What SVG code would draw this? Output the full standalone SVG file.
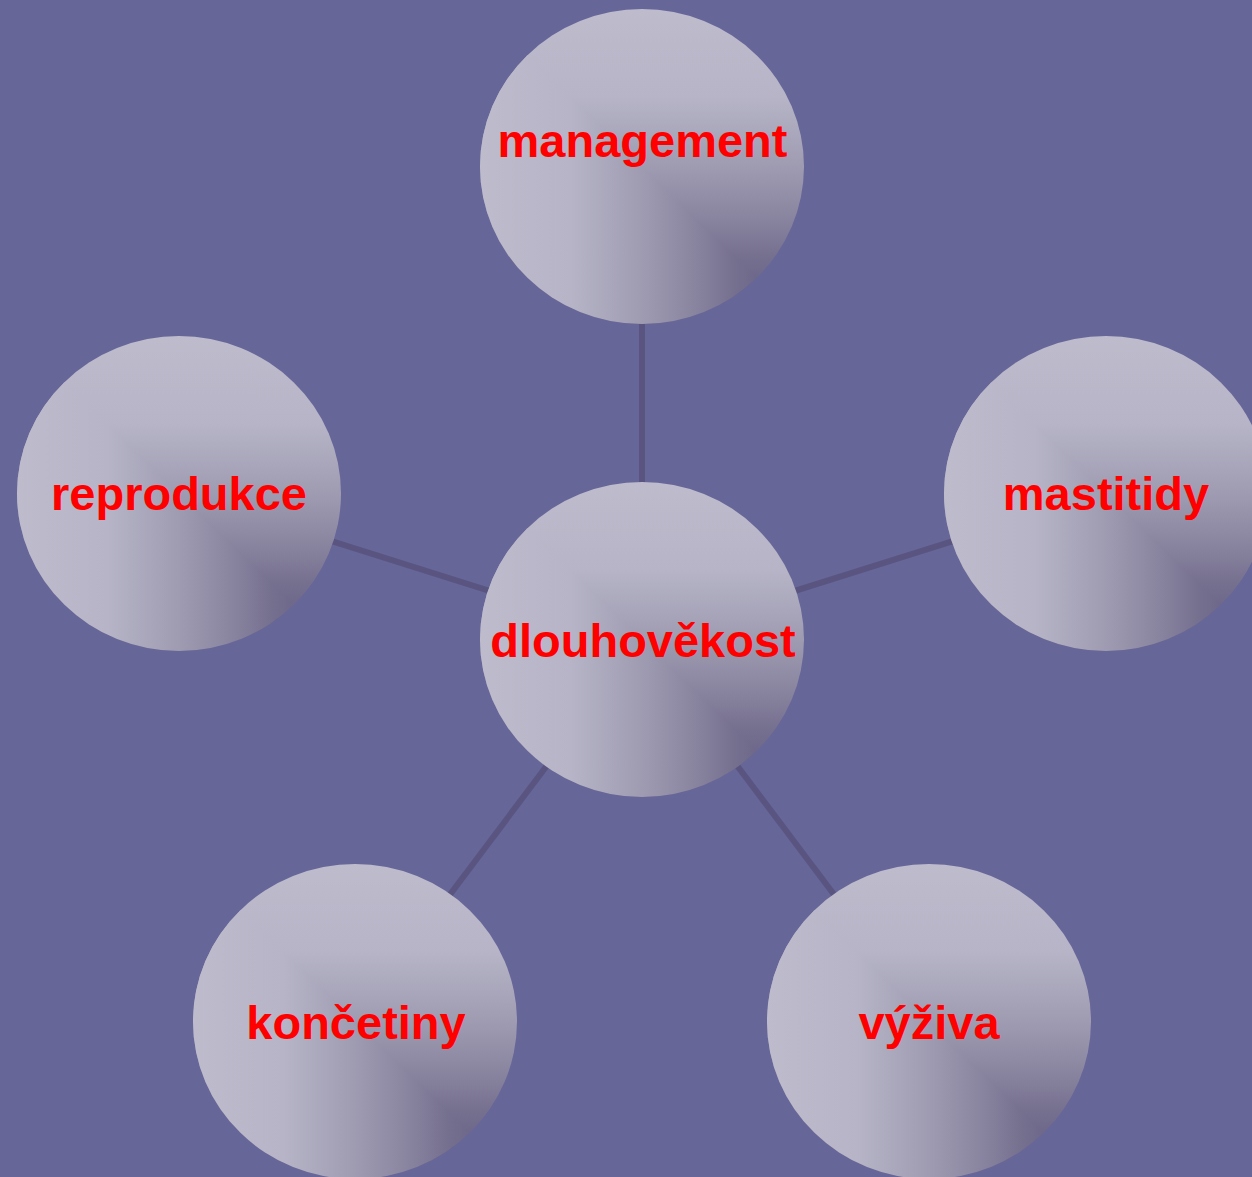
<svg xmlns="http://www.w3.org/2000/svg" width="1252" height="1177" viewBox="0 0 1252 1177">
  <defs>
    <!-- shading toward the lower-right: vertical ramp in the upper-right half, horizontal ramp in the lower-left half -->
    <linearGradient id="rampV" x1="0" y1="0" x2="0" y2="1">
      <stop offset="0" stop-color="#bdbbcc"/>
      <stop offset="0.28" stop-color="#b6b4c6"/>
      <stop offset="0.48" stop-color="#a19eb4"/>
      <stop offset="0.64" stop-color="#8c88a2"/>
      <stop offset="0.78" stop-color="#777190"/>
      <stop offset="0.88" stop-color="#6a6488"/>
      <stop offset="1" stop-color="#6a6488"/>
    </linearGradient>
    <linearGradient id="rampH" x1="0" y1="0" x2="1" y2="0">
      <stop offset="0" stop-color="#bdbbcc"/>
      <stop offset="0.28" stop-color="#b6b4c6"/>
      <stop offset="0.48" stop-color="#a19eb4"/>
      <stop offset="0.64" stop-color="#8c88a2"/>
      <stop offset="0.78" stop-color="#777190"/>
      <stop offset="0.88" stop-color="#6a6488"/>
      <stop offset="1" stop-color="#6a6488"/>
    </linearGradient>
    <clipPath id="lowerLeft" clipPathUnits="objectBoundingBox">
      <polygon points="0,0 1,1 0,1"/>
    </clipPath>
  </defs>
  <style>
    .link { stroke: #5a5580; stroke-width: 6; fill: none; }
    .disc-v { fill: url(#rampV); }
    .disc-h { fill: url(#rampH); clip-path: url(#lowerLeft); }
    .label { font-family: "Liberation Sans", Arial, sans-serif; font-weight: bold; font-size: 47px; fill: #ff0000; text-anchor: middle; }
  </style>

  <rect x="0" y="0" width="1252" height="1177" fill="#666699"/>

  <g id="connectors">
    <line class="link" x1="642" y1="639" x2="642" y2="166"/>
    <line class="link" x1="642" y1="639" x2="179" y2="493"/>
    <line class="link" x1="642" y1="639" x2="1106" y2="493"/>
    <line class="link" x1="642" y1="639" x2="355" y2="1021"/>
    <line class="link" x1="642" y1="639" x2="929" y2="1021"/>
  </g>

  <g id="node-management">
    <ellipse class="disc-v" cx="642" cy="166.5" rx="162" ry="157.5"/>
    <ellipse class="disc-h" cx="642" cy="166.5" rx="162" ry="157.5"/>
    <text class="label" x="642.5" y="157">management</text>
  </g>

  <g id="node-reprodukce">
    <ellipse class="disc-v" cx="179" cy="493.5" rx="162" ry="157.5"/>
    <ellipse class="disc-h" cx="179" cy="493.5" rx="162" ry="157.5"/>
    <text class="label" x="179" y="510">reprodukce</text>
  </g>

  <g id="node-mastitidy">
    <ellipse class="disc-v" cx="1106" cy="493.5" rx="162" ry="157.5"/>
    <ellipse class="disc-h" cx="1106" cy="493.5" rx="162" ry="157.5"/>
    <text class="label" x="1106" y="510">mastitidy</text>
  </g>

  <g id="node-dlouhovekost">
    <ellipse class="disc-v" cx="642" cy="639.5" rx="162" ry="157.5"/>
    <ellipse class="disc-h" cx="642" cy="639.5" rx="162" ry="157.5"/>
    <text class="label" x="643" y="657">dlouhověkost</text>
  </g>

  <g id="node-koncetiny">
    <ellipse class="disc-v" cx="355" cy="1021.5" rx="162" ry="157.5"/>
    <ellipse class="disc-h" cx="355" cy="1021.5" rx="162" ry="157.5"/>
    <text class="label" x="356" y="1039">končetiny</text>
  </g>

  <g id="node-vyziva">
    <ellipse class="disc-v" cx="929" cy="1021.5" rx="162" ry="157.5"/>
    <ellipse class="disc-h" cx="929" cy="1021.5" rx="162" ry="157.5"/>
    <text class="label" x="929" y="1039">výživa</text>
  </g>
</svg>
